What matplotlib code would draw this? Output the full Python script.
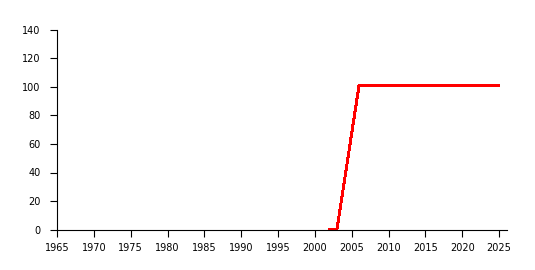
import matplotlib
matplotlib.use('Agg')
from matplotlib import pyplot as plt

years = [2002, 2003, 2006, 2007, 2008, 2009, 2010, 2011, 2012, 2013, 2014,
         2015, 2016, 2017, 2018, 2019, 2020, 2021, 2022, 2023, 2024, 2025]
values = [0, 0, 101, 101, 101, 101, 101, 101, 101, 101, 101,
          101, 101, 101, 101, 101, 101, 101, 101, 101, 101, 101]
x_ticks = list(range(1965, 2026, 5))
y_ticks = list(range(0, 141, 20))

fig = plt.figure(figsize=(5.35, 2.7), dpi=100)
ax = fig.add_axes([57 / 535, 40.5 / 270, 450 / 535, 199.5 / 270])

ax.plot(years, values, color='#ff0000', linewidth=1.4, antialiased=False,
        clip_on=False, solid_joinstyle='miter')

ax.set_xlim(1965, 1965 + 450 / (442 / 60))
ax.set_ylim(0, 140)
ax.set_xticks(x_ticks)
ax.set_yticks(y_ticks)
ax.spines['top'].set_visible(False)
ax.spines['right'].set_visible(False)
for s in ('left', 'bottom'):
    ax.spines[s].set_linewidth(0.8)
    ax.spines[s].set_color('black')
ax.tick_params(axis='both', length=5, width=0.8, labelsize=7,
               colors='black')
ax.tick_params(axis='y', pad=7)
ax.tick_params(axis='x', pad=5)

fig.savefig('out.png', dpi=100)
